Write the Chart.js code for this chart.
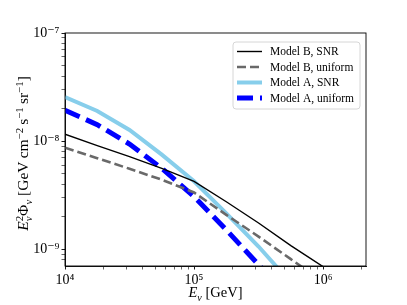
<!DOCTYPE html>
<html>
<head>
<meta charset="utf-8">
<script src="https://cdn.jsdelivr.net/npm/chart.js@4.4.0/dist/chart.umd.min.js"></script>
<style>
html, body { margin: 0; padding: 0; background: #fff; }
</style>
</head>
<body>
<canvas id="myChart" width="407" height="305"></canvas>
<script>
// data (quarter-decade energies)
const energies = [1e4, 1.778e4, 3.162e4, 5.623e4, 1e5, 1.778e5, 3.162e5, 5.623e5, 1e6];
const modelB_SNR = [1.16e-8, 9.1e-9, 7.2e-9, 5.6e-9, 4.25e-9, 2.75e-9, 1.75e-9, 1.08e-9, 6.9e-10];
const modelB_uniform = [8.7e-9, 6.95e-9, 5.55e-9, 4.4e-9, 3.35e-9, 2.08e-9, 1.31e-9, 8.1e-10, 5.0e-10];
const modelA_SNR = [2.55e-8, 1.9e-8, 1.27e-8, 7.5e-9, 4.25e-9, 2.15e-9, 1.06e-9, 4.9e-10];
const modelA_uniform = [1.93e-8, 1.42e-8, 9.4e-9, 5.6e-9, 3.07e-9, 1.51e-9, 7.2e-10, 3.4e-10];
const seriesLabels = ['Model B, SNR', 'Model B, uniform', 'Model A, SNR', 'Model A, uniform'];

const xMajorTicks = [1e4, 1e5, 1e6];
const xTickLabels = ['10⁴', '10⁵', '10⁶'];
const yMajorTicks = [1e-9, 1e-8, 1e-7];
const yTickLabels = ['10⁻⁹', '10⁻⁸', '10⁻⁷'];

const X_MIN = 1e4, X_MAX = 2.15e6;
const Y_MIN = 7.05e-10, Y_MAX = 1e-7;

const FONT = "'Liberation Serif', 'DejaVu Serif', serif";

// axis titles as pieces: sup / sub = script size, stack = sits over previous piece
const xTitle = [
	{ t: 'E', it: true }, { t: 'ν', it: true, sub: true }, { t: ' [GeV]' }
];
const yTitle = [
	{ t: 'E', it: true }, { t: '2', sup: true }, { t: 'ν', it: true, sub: true, stack: true },
	{ t: 'Φ' }, { t: 'ν', it: true, sub: true },
	{ t: ' [GeV\u2009cm' }, { t: '−2', sup: true }, { t: '\u2009s' }, { t: '−1', sup: true },
	{ t: '\u2009sr' }, { t: '−1', sup: true }, { t: ']' }
];

function toPoints(vals) {
	return vals.map(function (v, i) { return { x: energies[i], y: v }; });
}

// major + minor ticks (2..9 x decade) inside the range
function logTicks(min, max) {
	var out = [];
	for (var e = Math.floor(Math.log10(min)); e <= Math.ceil(Math.log10(max)); e++) {
		for (var m = 1; m <= 9; m++) {
			var v = m * Math.pow(10, e);
			if (v >= min * 0.999 && v <= max * 1.001) out.push({ value: v, major: m === 1 });
		}
	}
	return out;
}

function majorLabel(value, majors, labels) {
	for (var i = 0; i < majors.length; i++) {
		if (Math.abs(value / majors[i] - 1) < 1e-6) return labels[i];
	}
	return '';
}

function pieceFont(p, size) {
	var s = (p.sup || p.sub) ? size * 0.7 : size;
	return (p.it ? 'italic ' : '') + s + 'px ' + FONT;
}

// draw a title with super/subscripts, centred on (cx, cy)
function drawRich(ctx, pieces, cx, cy, size, rot) {
	ctx.save();
	ctx.translate(cx, cy);
	if (rot) ctx.rotate(rot);
	ctx.textBaseline = 'alphabetic';
	ctx.textAlign = 'left';
	ctx.fillStyle = '#000';
	var widths = [], total = 0, lastW = 0;
	pieces.forEach(function (p) {
		ctx.font = pieceFont(p, size);
		var w = ctx.measureText(p.t).width;
		widths.push(w);
		if (p.stack) { total += Math.max(0, w - lastW); } else { total += w; }
		lastW = w;
	});
	var x = -total / 2, base = size * 0.35, prevX = x;
	pieces.forEach(function (p, i) {
		ctx.font = pieceFont(p, size);
		var dy = p.sup ? -size * 0.38 : (p.sub ? size * 0.25 : 0);
		var px = p.stack ? prevX : x;
		ctx.fillText(p.t, px, base + dy);
		if (p.stack) {
			x = Math.max(x, px + widths[i]);
		} else {
			prevX = x;
			x += widths[i];
		}
	});
	ctx.restore();
}

// axes frame, axis titles and legend box in the upper right
const framePlugin = {
	id: 'frame',
	afterDraw(chart) {
		const ctx = chart.ctx;
		const a = chart.chartArea;
		ctx.save();
		ctx.strokeStyle = '#000';
		ctx.lineWidth = 0.9;
		ctx.setLineDash([]);
		ctx.strokeRect(a.left, a.top, a.right - a.left, a.bottom - a.top);

		drawRich(ctx, xTitle, (a.left + a.right) / 2, 292, 14.5, 0);
		drawRich(ctx, yTitle, 23, (a.top + a.bottom) / 2 + 4, 15.5, -Math.PI / 2);

		// legend
		const bx = a.right - 133, by = a.top + 9, bw = 127, bh = 67;
		ctx.fillStyle = 'rgba(255,255,255,0.85)';
		ctx.strokeStyle = '#d6d6d6';
		ctx.lineWidth = 1;
		ctx.beginPath();
		ctx.roundRect(bx, by, bw, bh, 3);
		ctx.fill();
		ctx.stroke();

		ctx.font = '11.5px ' + FONT;
		ctx.textBaseline = 'middle';
		ctx.textAlign = 'left';
		chart.data.datasets.forEach(function (ds, i) {
			const y = by + 9.5 + i * 15.5;
			ctx.strokeStyle = ds.borderColor;
			ctx.lineWidth = ds.borderWidth;
			ctx.setLineDash(ds.borderDash || []);
			ctx.lineCap = 'butt';
			ctx.beginPath();
			ctx.moveTo(bx + 4, y);
			ctx.lineTo(bx + 29, y);
			ctx.stroke();
			ctx.setLineDash([]);
			ctx.fillStyle = '#000';
			ctx.fillText(ds.label, bx + 37, y + 0.5);
		});
		ctx.restore();
	}
};

var ctx = document.getElementById('myChart').getContext('2d');

var myChart = new Chart(ctx, {
	type: 'line',
	data: {
		datasets: [{
			label: seriesLabels[0],
			data: toPoints(modelB_SNR),
			borderColor: '#000000',
			borderWidth: 1.4,
			pointRadius: 0,
			clip: 0
		}, {
			label: seriesLabels[1],
			data: toPoints(modelB_uniform),
			borderColor: '#696969',
			borderWidth: 2.6,
			borderDash: [9, 4],
			pointRadius: 0,
			clip: 0
		}, {
			label: seriesLabels[2],
			data: toPoints(modelA_SNR),
			borderColor: '#87ceeb',
			borderWidth: 4,
			pointRadius: 0,
			clip: 0
		}, {
			label: seriesLabels[3],
			data: toPoints(modelA_uniform),
			borderColor: '#0000ff',
			borderWidth: 5,
			borderDash: [16, 7],
			pointRadius: 0,
			clip: 0
		}]
	},
	options: {
		responsive: false,
		animation: false,
		devicePixelRatio: 1,
		layout: { padding: { top: 33, right: 41, left: 0, bottom: 0 } },
		plugins: {
			legend: { display: false },
			tooltip: { enabled: false }
		},
		elements: { line: { tension: 0, fill: false, borderCapStyle: 'butt' } },
		scales: {
			x: {
				type: 'logarithmic',
				min: X_MIN,
				max: X_MAX,
				afterBuildTicks: function (scale) { scale.ticks = logTicks(X_MIN, X_MAX); },
				afterFit: function (scale) { scale.height = 39; },
				border: { display: true, color: '#000', width: 0.9 },
				grid: {
					drawOnChartArea: false,
					drawTicks: true,
					tickLength: 3.5,
					tickColor: '#000',
					tickWidth: function (c) { return c.tick && c.tick.major ? 0.9 : 0.6; }
				},
				ticks: {
					autoSkip: false,
					maxRotation: 0,
					padding: 2,
					color: '#000',
					font: { family: FONT, size: 14 },
					callback: function (value) { return majorLabel(value, xMajorTicks, xTickLabels); }
				},
				title: { display: false }
			},
			y: {
				type: 'logarithmic',
				min: Y_MIN,
				max: Y_MAX,
				afterBuildTicks: function (scale) { scale.ticks = logTicks(Y_MIN, Y_MAX); },
				afterFit: function (scale) { scale.width = 65; },
				border: { display: true, color: '#000', width: 0.9 },
				grid: {
					drawOnChartArea: false,
					drawTicks: true,
					tickLength: 3.5,
					tickColor: '#000',
					tickWidth: function (c) { return c.tick && c.tick.major ? 0.9 : 0.6; }
				},
				ticks: {
					autoSkip: false,
					padding: 2,
					color: '#000',
					font: { family: FONT, size: 14 },
					callback: function (value) { return majorLabel(value, yMajorTicks, yTickLabels); }
				},
				title: { display: false }
			}
		}
	},
	plugins: [framePlugin]
});
</script>
</body>
</html>
